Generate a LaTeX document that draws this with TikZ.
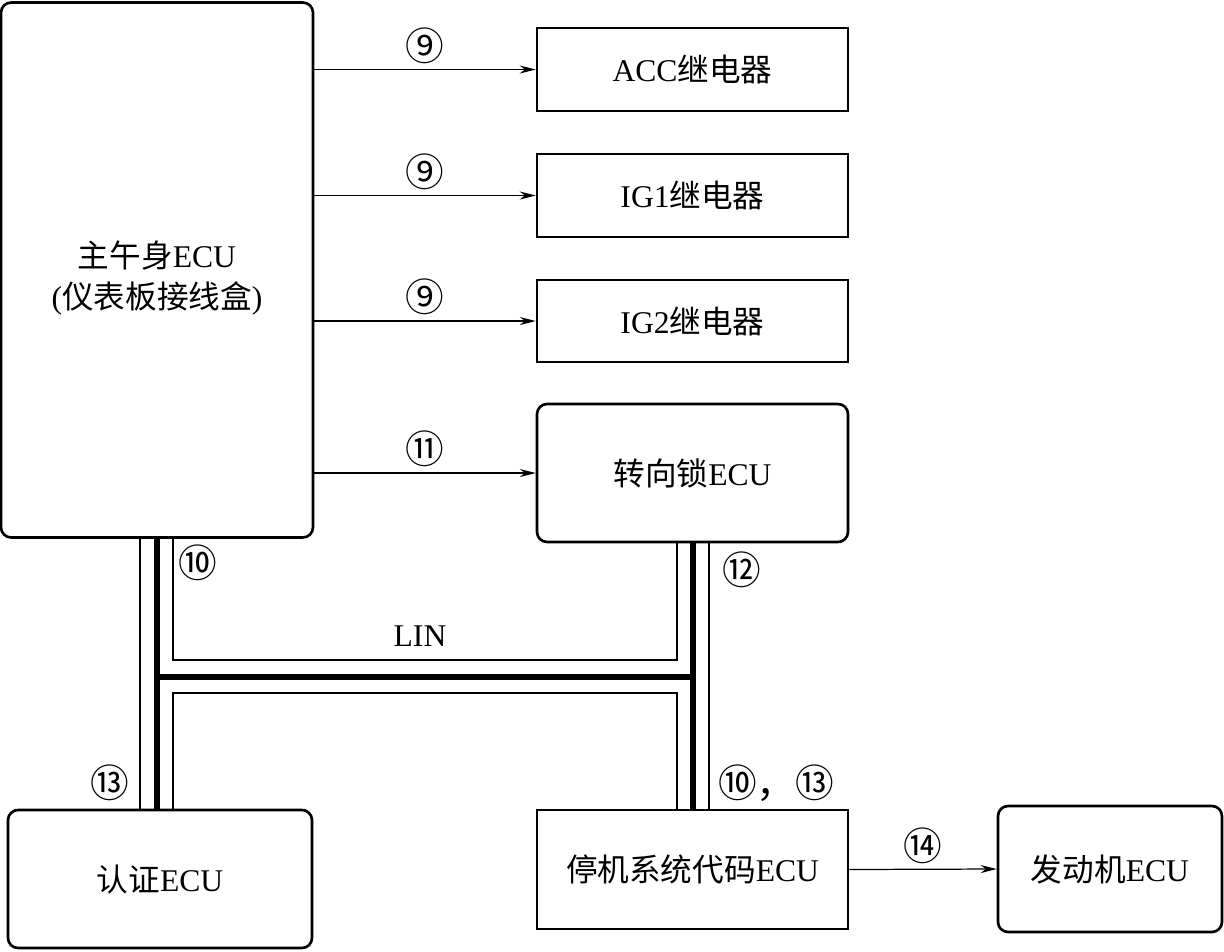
\documentclass[tikz,border=0pt]{standalone}
\usepackage{fontspec}
\setmainfont{Liberation Serif}
\newfontfamily\cjk{Noto Sans CJK SC}
\usetikzlibrary{positioning,arrows.meta}

\begin{document}
\begin{tikzpicture}[
  x=0.02cm, y=-0.02cm,
  every node/.style={font=\fontsize{18}{23}\selectfont, align=center},
  box/.style={draw, line width=1.5pt, minimum width=6.22cm},
  rbox/.style={box, rounded corners=0.2cm},
  arr/.style={-{Stealth[length=3.2mm, width=1.6mm]}, line width=0.7pt},
  wire/.style={line width=0.7pt},
  bus/.style={line width=3.2pt},
  lab/.style={font=\fontsize{22}{22}\selectfont\cjk, inner sep=0pt}
]
\useasboundingbox (0,0) rectangle (1224,951);

% ECUs and relays
\node[rbox, minimum width=6.24cm, minimum height=10.7cm] (main) at (157,270) {};
\node (maintitle) at (157,278) {{\cjk 主午身}ECU\\({\cjk 仪表板接线盒})};
\node[box, minimum height=1.66cm] (acc) at (692.5,69.5) {ACC{\cjk 继电器}};
\node[box, minimum height=1.66cm] (ig1) at (692.5,195.5) {IG1{\cjk 继电器}};
\node[box, minimum height=1.64cm] (ig2) at (692.5,321) {IG2{\cjk 继电器}};
\node[rbox, minimum height=2.76cm] (lock) at (692.5,473) {{\cjk 转向锁}ECU};
\node[rbox, minimum width=6.08cm, minimum height=2.76cm] (auth) at (160,879) {{\cjk 认证}ECU};
\node[box, minimum height=2.38cm] (immo) at (692.5,869.5) {{\cjk 停机系统代码}ECU};
\node[rbox, minimum width=4.48cm, minimum height=2.52cm] (eng) at (1110,869) {{\cjk 发动机}ECU};

% signal lines
\draw[arr] (main.east |- acc.west) -- node[lab, above=3pt]{⑨} (acc.west);
\draw[arr] (main.east |- ig1.west) -- node[lab, above=3pt]{⑨} (ig1.west);
\draw[arr] (main.east |- ig2.west) -- node[lab, above=3pt]{⑨} (ig2.west);
\draw[arr] (main.east |- lock.west) -- node[lab, above=3pt]{⑪} (lock.west);
\draw[arr] (immo.east) -- node[lab, above=3pt]{⑭} (eng.west);

% LIN bus
\coordinate (L1) at (140,0);
\coordinate (L2) at (157,0);
\coordinate (L3) at (173,0);
\coordinate (R1) at (677,0);
\coordinate (R2) at (693,0);
\coordinate (R3) at (709,0);
\coordinate (upper) at (0,660);
\coordinate (middle) at (0,677);
\coordinate (lower) at (0,693);

\draw[wire] (main.south -| L1) -- (auth.north -| L1);
\draw[bus] (main.south -| L2) -- (auth.north -| L2);
\draw[wire] (main.south -| L3) -- (L3 |- upper) -- (R1 |- upper) -- (lock.south -| R1);
\draw[wire] (auth.north -| L3) -- (L3 |- lower) -- (R1 |- lower) -- (immo.north -| R1);
\draw[bus] (lock.south -| R2) -- (immo.north -| R2);
\draw[wire] (lock.south -| R3) -- (immo.north -| R3);
\draw[bus] (L2 |- middle) -- (R2 |- middle);

\node[lab] (n10) at (198,563) {⑩};
\node[lab] (n12) at (742,570) {⑫};
\node[lab] (n13) at (110,783) {⑬};
\node[lab] (n1013) at (776,783) {⑩，⑬};
\node (lin) at (420,636) {LIN};
\end{tikzpicture}
\end{document}
